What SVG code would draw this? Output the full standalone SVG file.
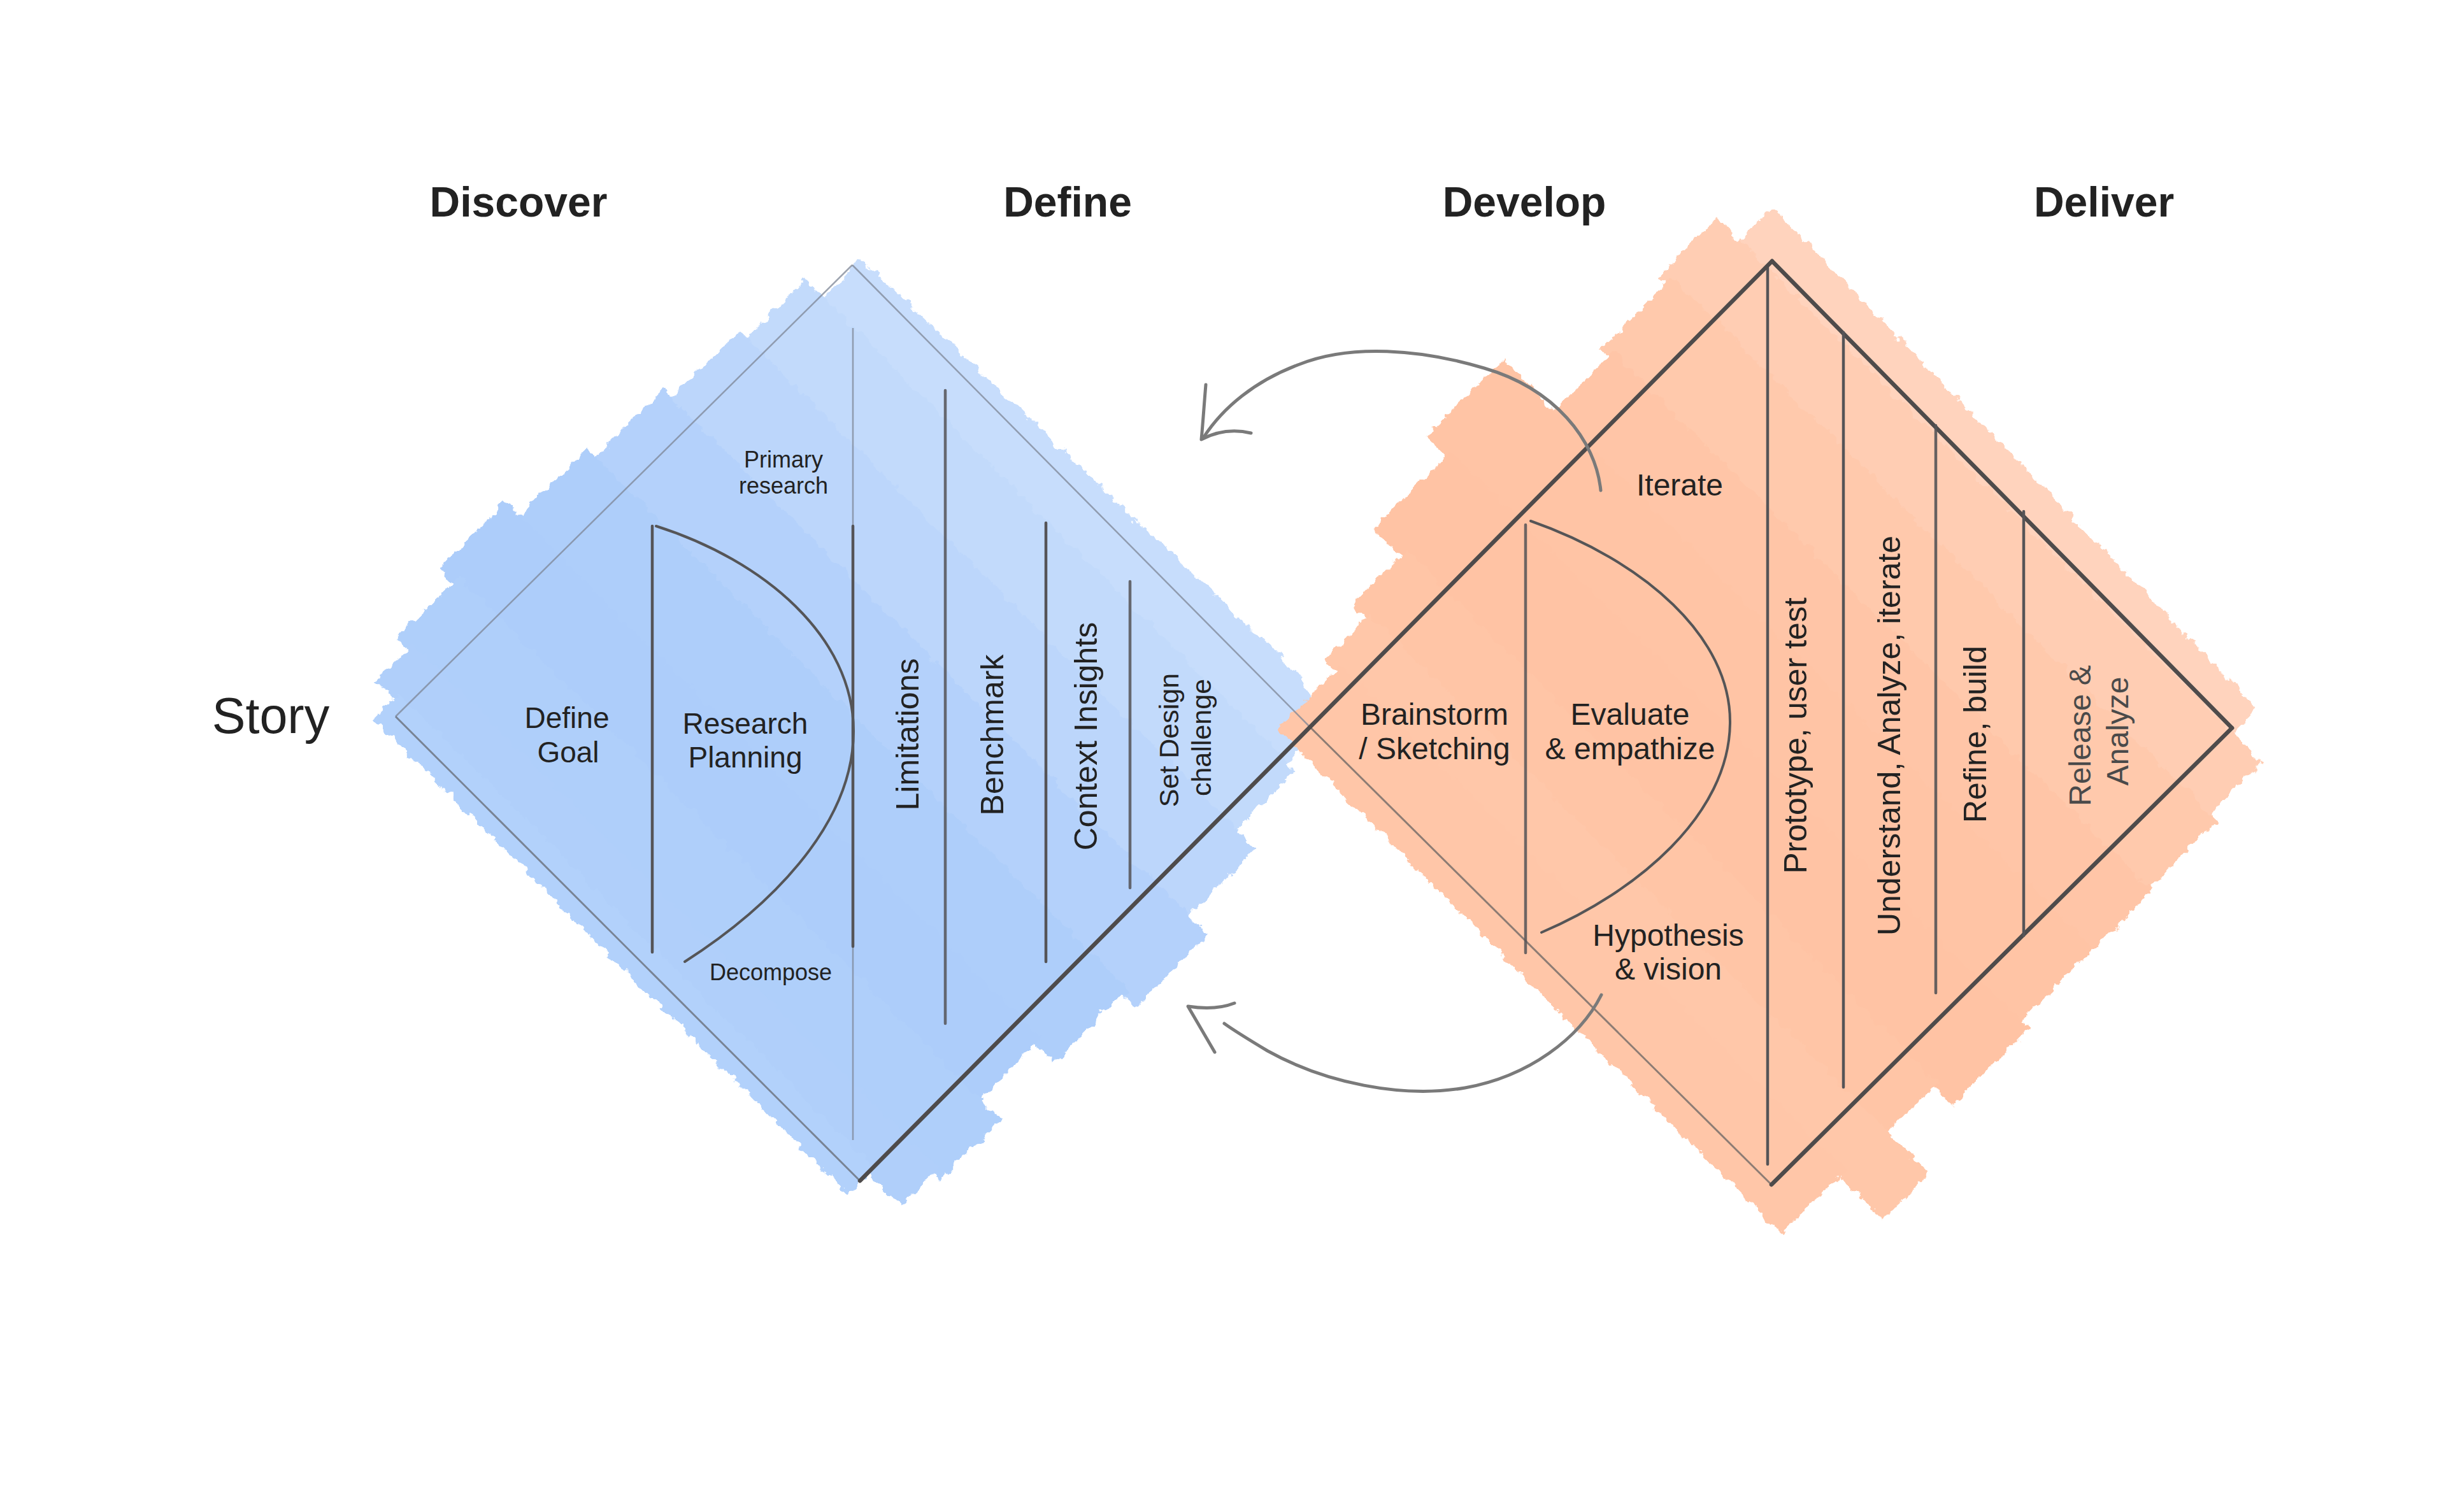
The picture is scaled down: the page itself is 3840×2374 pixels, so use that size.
<svg xmlns="http://www.w3.org/2000/svg" width="3840" height="2374" viewBox="0 0 3840 2374">
<defs>
<style>
.t{font-family:"Liberation Sans",Arial,sans-serif;fill:#222;text-anchor:middle}
.h{font-weight:bold;font-size:66px}
.s36{font-size:36px}
.s46{font-size:46px}
.s48{font-size:48px}
.s50{font-size:50px}
.s43{font-size:43px}
.dk{stroke:#4e4b4b;stroke-width:6.5;fill:none;stroke-linecap:round}
.md{stroke:#555457;stroke-width:4.5;fill:none;stroke-linecap:round}
.lt{stroke:#7d8696;stroke-width:2.5;fill:none;opacity:.75}
.arc{stroke:#555557;stroke-width:4;fill:none;stroke-linecap:round}
.arr{stroke:#7a7a7a;stroke-width:5;fill:none;stroke-linecap:round;stroke-linejoin:round}
</style>
<filter id="rough" x="-10%" y="-10%" width="120%" height="120%">
<feTurbulence type="fractalNoise" baseFrequency="0.06" numOctaves="4" seed="7" result="n"/>
<feDisplacementMap in="SourceGraphic" in2="n" scale="18" xChannelSelector="R" yChannelSelector="G"/>
</filter>
</defs>
<rect width="3840" height="2374" fill="#ffffff"/>

<g id="titles">
<text class="t h" x="814" y="340">Discover</text>
<text class="t h" x="1676" y="340">Define</text>
<text class="t h" x="2393" y="340">Develop</text>
<text class="t h" x="3303" y="340">Deliver</text>
</g>
<g id="story"><text class="t" x="425" y="1151" font-size="79">Story</text></g>

<g id="blue-fill" filter="url(#rough)">
<g transform="translate(1338,1135) rotate(45)">
<polygon fill="#c7ddfc" points="-505,-525 440,-550 525,-520 525,-425 -505,-425"/>
<rect fill="#c2dafb" x="-545" y="-440" width="1090" height="142"/>
<rect fill="#bcd6fb" x="-562" y="-310" width="1150" height="162"/>
<rect fill="#b4d1fb" x="-580" y="-160" width="1210" height="162"/>
<rect fill="#aecefa" x="-600" y="-10" width="1200" height="162"/>
<rect fill="#adcdfa" x="-631" y="140" width="1191" height="147"/>
<rect fill="#afcffa" x="-600" y="275" width="1205" height="137"/>
<rect fill="#b0cffa" x="-575" y="400" width="1165" height="82"/>
<rect fill="#b2d1fb" x="-535" y="470" width="1055" height="58"/>
</g>
</g>

<g id="orange-fill" filter="url(#rough)">
<g transform="translate(2780,1140) rotate(45)">
<polygon fill="#ffd3bd" points="-574,-578 332,-562 520,-560 520,-495 -574,-495"/>
<rect fill="#ffcdb3" x="-624" y="-505" width="1209" height="127"/>
<rect fill="#ffc9ac" x="-607" y="-390" width="1207" height="162"/>
<rect fill="#ffc5a7" x="-590" y="-240" width="1195" height="142"/>
<rect fill="#ffc4a5" x="-705" y="-110" width="1310" height="172"/>
<rect fill="#ffc3a4" x="-660" y="50" width="1282" height="172"/>
<rect fill="#ffc5a6" x="-600" y="210" width="1180" height="122"/>
<rect fill="#ffc7a9" x="-570" y="320" width="1242" height="102"/>
<rect fill="#ffc6a8" x="-545" y="410" width="1120" height="142"/>
</g>
</g>

<g id="blue-diamond">
<line class="lt" x1="621" y1="1125" x2="1338" y2="416"/>
<line stroke="#6f7683" stroke-width="3" opacity=".85" x1="621" y1="1125" x2="1350" y2="1854"/>
<line class="lt" x1="1338" y1="416" x2="2055" y2="1140"/>
<line class="md" x1="1024" y1="826" x2="1024" y2="1495"/>
<line class="lt" x1="1339" y1="515" x2="1339" y2="1790"/>
<line class="md" x1="1339" y1="826" x2="1339" y2="1486"/>
<line class="md" x1="1484" y1="613" x2="1484" y2="1607" opacity=".85"/>
<line class="md" x1="1642" y1="821" x2="1642" y2="1510"/>
<line class="md" x1="1774" y1="913" x2="1774" y2="1394" opacity=".85"/>
<path class="arc" d="M1030,826 C1200,880 1340,1000 1340,1148 C1340,1300 1200,1430 1075,1510"/>
<text class="t s36" x="1230" y="734">Primary</text>
<text class="t s36" x="1230" y="775">research</text>
<text class="t s46" x="890" y="1143">Define</text>
<text class="t s46" x="892" y="1197">Goal</text>
<text class="t s46" x="1170" y="1152">Research</text>
<text class="t s46" x="1170" y="1205">Planning</text>
<text class="t s36" x="1210" y="1539">Decompose</text>
<text class="t s50" transform="translate(1442,1153) rotate(-90)">Limitations</text>
<text class="t s50" transform="translate(1575,1154) rotate(-90)">Benchmark</text>
<text class="t s50" transform="translate(1722,1156) rotate(-90)">Context Insights</text>
<text class="t s43" transform="translate(1850,1162) rotate(-90)">Set Design</text>
<text class="t s43" transform="translate(1901,1158) rotate(-90)">challenge</text>
</g>

<g id="orange-diamond">
<line stroke="#7a706b" stroke-width="3" opacity=".85" x1="2055" y1="1140" x2="2781" y2="1860"/>
<line class="dk" x1="2782" y1="410" x2="3504" y2="1143"/>
<line class="dk" x1="3504" y1="1143" x2="2781" y2="1860"/>
<line class="md" x1="2395" y1="824" x2="2395" y2="1496" opacity=".85"/>
<line class="md" x1="2775" y1="420" x2="2775" y2="1828"/>
<line class="md" x1="2894" y1="522" x2="2894" y2="1707"/>
<line class="md" x1="3039" y1="668" x2="3039" y2="1559" opacity=".9"/>
<line class="md" x1="3177" y1="803" x2="3177" y2="1469"/>
<path class="arc" d="M2403,818 C2580,880 2718,1000 2716,1136 C2714,1280 2570,1400 2420,1464"/>
<text class="t s48" x="2637" y="778">Iterate</text>
<text class="t s48" x="2252" y="1138">Brainstorm</text>
<text class="t s48" x="2252" y="1192">/ Sketching</text>
<text class="t s48" x="2559" y="1138">Evaluate</text>
<text class="t s48" x="2559" y="1192">&amp; empathize</text>
<text class="t s48" x="2619" y="1485">Hypothesis</text>
<text class="t s48" x="2619" y="1538">&amp; vision</text>
<text class="t s50" transform="translate(2836,1155) rotate(-90)">Prototype, user test</text>
<text class="t s50" transform="translate(2983,1155) rotate(-90)">Understand, Analyze, iterate</text>
<text class="t s50" transform="translate(3118,1153) rotate(-90)">Refine, build</text>
<text class="t s48" style="fill:#4a4a4a" transform="translate(3282,1155) rotate(-90)">Release &amp;</text>
<text class="t s48" style="fill:#4a4a4a" transform="translate(3341,1148) rotate(-90)">Analyze</text>
</g>

<g id="shared-edge">
<line class="dk" x1="1350" y1="1854" x2="2782" y2="410"/>
</g>

<g id="connectors">
<path class="arr" d="M2513,770 C2505,690 2440,610 2330,578 C2230,548 2120,540 2040,572 C1970,598 1920,640 1890,686"/>
<path class="arr" d="M1893,604 C1890,640 1888,670 1886,690 C1905,680 1930,672 1964,680"/>
<path class="arr" d="M2514,1562 C2480,1630 2400,1690 2300,1708 C2200,1725 2080,1700 1990,1650 C1960,1632 1940,1620 1922,1607"/>
<path class="arr" d="M1938,1575 C1915,1584 1890,1584 1865,1580 L1907,1652"/>
</g>
</svg>
